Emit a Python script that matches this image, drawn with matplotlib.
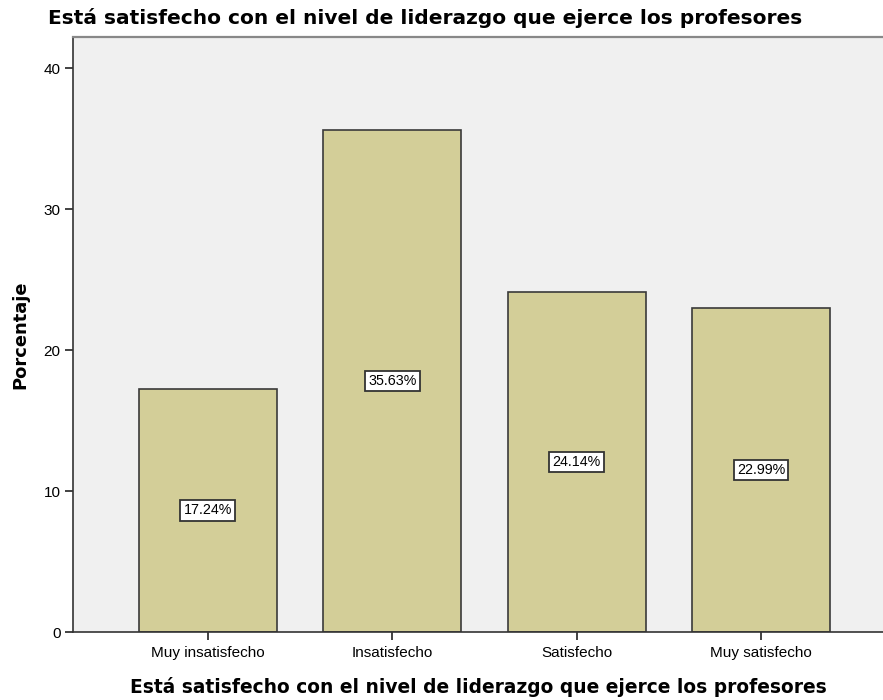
import matplotlib
matplotlib.use("Agg")
import matplotlib.pyplot as plt

categories = ["Muy insatisfecho", "Insatisfecho", "Satisfecho", "Muy satisfecho"]
percentages = [17.24, 35.63, 24.14, 22.99]
yticks = [0, 10, 20, 30, 40]
title = "Está satisfecho con el nivel de liderazgo que ejerce los profesores"
xlabel = "Está satisfecho con el nivel de liderazgo que ejerce los profesores"
ylabel = "Porcentaje"

W, H = 883, 700
fig = plt.figure(figsize=(W / 100, H / 100), dpi=100)
fig.patch.set_facecolor("white")
ax = fig.add_axes([73 / W, (H - 632) / H, (W - 73) / W, (632 - 37) / H])
ax.set_facecolor("#F0F0F0")

x = list(range(len(categories)))
ax.bar(x, percentages, width=0.75, color="#D3CE98", edgecolor="#3a3a3a", linewidth=1.2, zorder=2)
for xi, v in zip(x, percentages):
    ax.text(xi, v / 2, f"{v:.2f}%", ha="center", va="center", fontsize=10.3,
            family="Liberation Sans", zorder=3,
            bbox=dict(boxstyle="square,pad=0.22", fc="white", ec="#333333", lw=1.3))

ax.set_xlim(-0.73, 3.66)
ax.set_ylim(0, 42.2)
ax.set_yticks(yticks)
ax.set_xticks(x)
ax.set_xticklabels(categories, family="Liberation Sans", fontsize=11)
for lbl in ax.get_yticklabels():
    lbl.set_family("Liberation Sans")
    lbl.set_fontsize(11)
ax.tick_params(axis="both", length=6, width=1.3, color="#333333", pad=3)
ax.tick_params(axis="x", pad=4)

ax.spines["right"].set_visible(False)
ax.spines["left"].set_color("#333333")
ax.spines["bottom"].set_color("#333333")
ax.spines["left"].set_linewidth(1.2)
ax.spines["bottom"].set_linewidth(1.2)
ax.spines["top"].set_color("#888888")
ax.spines["top"].set_linewidth(1.6)

ax.set_xlabel(xlabel, fontsize=13.4, fontweight="bold", family="DejaVu Sans", labelpad=12)
ax.set_ylabel(ylabel, fontsize=12.9, fontweight="bold", family="DejaVu Sans", labelpad=10)
fig.text(48 / W, 1 - 18 / H, title, fontsize=14.5, fontweight="bold",
         family="DejaVu Sans", ha="left", va="center")

fig.savefig("out.png", dpi=100)
